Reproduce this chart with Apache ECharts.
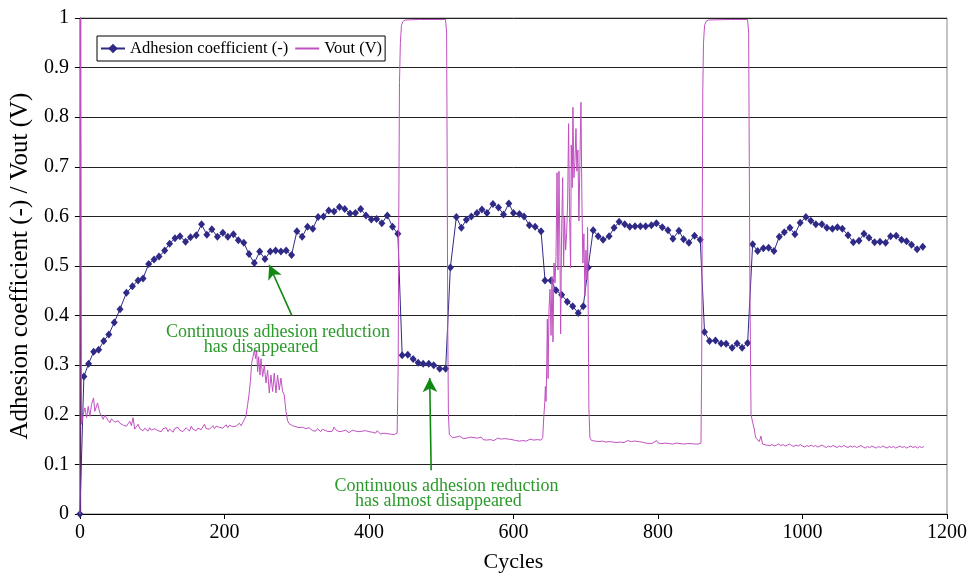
<!DOCTYPE html>
<html>
<head>
<meta charset="utf-8">
<script src="https://cdn.jsdelivr.net/npm/echarts@6/dist/echarts.min.js"></script>
<style>html,body{margin:0;padding:0;background:#fff}#c{width:970px;height:578px}</style>
</head>
<body>
<div id="c"></div>
<script>
const xTicks = [0, 200, 400, 600, 800, 1000, 1200];
const cycles = [0,5.5,12,19,26,33,40,47.5,55.5,
64.4,72.7,80.5,87.4,95.2,102.6,109.5,117.3,124.1,131.6,138.5,146.2,153.1,161,168.3,175.7,182.6,190.3,197.8,204.7,212.4,219.3,226.8,234,241.4,248.8,256.1,263.4,270.9,278.2,285.5,292.9,300.3,307.6,315,322.3,329.7,337.1,344.4,351.7,359.2,366.5,373.8,381.2,388.6,395.9,403.3,410.6,417.9,425.4,
432.7,440,
446,453.8,461.2,468.1,475,482.8,489.7,498,506.2,
512.7,521,527.9,534.8,541.7,549.5,556.4,563.3,571.6,579.3,586.2,593.6,600,608.3,614.7,622,630,638.2,
643.7,652,658.9,666.7,674.5,682,689.7,696.6,
703.4,710.3,717.2,724.1,732.4,739.3,746.2,754,761,768.3,775.7,783,790.9,797.8,806,813.8,820.7,829,835.4,842.8,850.6,858.5,
864.4,871.3,879.6,887.4,894.3,902.6,909.5,916.4,924.1,
931,937.9,945.8,953.1,960.5,967.9,974.8,982.6,989.5,996.8,1004.7,1011.6,1018.5,1026.8,1033.7,1041.4,1048.3,1055.2,1063,1070.3,1078.2,1085.1,1092,1099.8,1107.2,1115,1121.9,1129.7,1137.1,1144,1150.9,1158.6,1166.5];
const adhesion = [0,0.277,0.303,0.327,0.331,0.349,0.362,0.386,0.413,
0.446,0.459,0.471,0.475,0.504,0.513,0.519,0.531,0.545,0.556,0.560,0.549,0.558,0.562,0.584,0.563,0.574,0.559,0.567,0.559,0.564,0.552,0.547,0.524,0.506,0.529,0.514,0.529,0.531,0.529,0.531,0.522,0.570,0.559,0.579,0.575,0.599,0.600,0.612,0.610,0.619,0.615,0.606,0.607,0.615,0.602,0.594,0.595,0.586,0.602,
0.579,0.565,
0.320,0.321,0.3125,0.305,0.303,0.303,0.300,0.293,0.293,
0.497,0.599,0.577,0.593,0.600,0.607,0.614,0.607,0.625,0.618,0.604,0.626,0.607,0.605,0.600,0.582,0.579,0.570,
0.471,0.471,0.451,0.442,0.428,0.419,0.405,0.419,
0.497,0.572,0.560,0.553,0.560,0.577,0.589,0.584,0.579,0.580,0.580,0.580,0.582,0.586,0.578,0.572,0.555,0.571,0.554,0.547,0.561,0.553,
0.367,0.349,0.350,0.344,0.343,0.335,0.344,0.335,0.345,
0.544,0.530,0.536,0.537,0.530,0.559,0.568,0.577,0.564,0.587,0.599,0.591,0.584,0.584,0.577,0.575,0.578,0.575,0.562,0.548,0.551,0.565,0.557,0.548,0.549,0.547,0.560,0.561,0.553,0.550,0.543,0.534,0.539];
const voutPoints = [[0,0],[1,1.0],[1.8,0.5],[2.3,0.181],[4.6,0.201],[6.9,0.214],[9.2,0.194],[11.5,0.217],[13.8,0.197],[16.1,0.221],[18.9,0.234],[20.7,0.207],[24.4,0.224],[27.6,0.204],[30,0.198],[32.2,0.191],[34.5,0.199],[36.8,0.201],[39,0.189],[41.4,0.184],[43.7,0.192],[46,0.195],[48.3,0.185],[50.6,0.181],[53,0.188],[55.2,0.183],[57.5,0.186],[60,0.179],[62,0.183],[64.4,0.177],[66.7,0.182],[69,0.187],[71.3,0.178],[73.6,0.194],[75.9,0.171],[78.2,0.176],[80.5,0.181],[83,0.172],[85,0.176],[87.4,0.168],[89.7,0.173],[92,0.177],[94.3,0.167],[96.6,0.174],[98.9,0.169],[101,0.165],[103.5,0.172],[105.7,0.175],[108,0.168],[110.3,0.171],[112.6,0.166],[115,0.172],[117.2,0.169],[119.5,0.174],[122,0.166],[124,0.171],[126.4,0.169],[129,0.165],[131,0.172],[133,0.168],[135.6,0.175],[138,0.169],[140.3,0.173],[142.5,0.166],[144.8,0.168],[147,0.174],[149.4,0.17],[151.7,0.167],[154,0.177],[156.3,0.171],[158.6,0.174],[161,0.168],[163.2,0.173],[165.5,0.176],[167.8,0.17],[170,0.174],[172.4,0.181],[174.7,0.172],[177,0.176],[179.3,0.171],[181.6,0.174],[184,0.178],[186.2,0.172],[188.5,0.177],[190.8,0.181],[193,0.175],[195.4,0.179],[197.7,0.173],[200,0.177],[202.3,0.18],[204.6,0.174],[207,0.179],[209.2,0.182],[211.5,0.176],[213.8,0.18],[216,0.177],[218.4,0.179],[220.7,0.183],[223,0.178],[225.3,0.184],[227.5,0.19],[229.9,0.198],[232.2,0.221],[234,0.24],[235.9,0.267],[237.7,0.304],[240,0.300],[241.4,0.330],[243.2,0.313],[244.6,0.330],[246,0.287],[247.4,0.317],[249.2,0.280],[250.6,0.313],[252.9,0.277],[255.2,0.300],[257.5,0.264],[259.8,0.290],[262.1,0.244],[264.4,0.280],[266.7,0.247],[269,0.284],[271.3,0.244],[273.6,0.280],[275.9,0.250],[278.2,0.274],[280.5,0.247],[282.8,0.240],[285.1,0.208],[287.4,0.188],[289.7,0.182],[292,0.184],[294.3,0.178],[296.6,0.181],[299,0.176],[301,0.172],[303.4,0.174],[306,0.17],[308,0.175],[310.3,0.177],[312.6,0.172],[315,0.169],[317.2,0.174],[319.5,0.17],[322,0.168],[324.1,0.171],[326.4,0.167],[328.7,0.172],[331,0.169],[333.3,0.166],[335.6,0.171],[337.9,0.173],[340.2,0.168],[342.5,0.17],[344.8,0.166],[347,0.169],[349.4,0.167],[351.7,0.175],[354,0.17],[356.3,0.169],[358.6,0.166],[361,0.17],[363.2,0.167],[365.5,0.165],[367.8,0.169],[370.1,0.168],[372.4,0.164],[374.7,0.167],[377,0.169],[379.3,0.165],[381.6,0.167],[383.9,0.169],[386.2,0.166],[388.5,0.163],[390.8,0.167],[393,0.165],[395.4,0.168],[397.7,0.164],[400,0.166],[402.3,0.162],[404.6,0.165],[407,0.167],[409.2,0.163],[411.5,0.168],[413.8,0.164],[416,0.161],[418.4,0.165],[420.7,0.163],[423,0.16],[425.3,0.162],[427.6,0.165],[430,0.161],[432.2,0.163],[434.5,0.16],[436.8,0.161],[439,0.163],[440.5,0.3],[441.3,0.6],[442.3,0.87],[443.5,0.95],[445,0.985],[447,0.993],[450,0.996],[470,0.997],[490,0.997],[506,0.997],[507.5,0.97],[508.3,0.7],[509,0.4],[510,0.2],[511.3,0.16],
[513,0.157],[515.5,0.154],[518,0.158],[520.5,0.155],[523,0.153],[525.5,0.157],[528,0.154],[530.5,0.152],[533,0.156],[535.5,0.153],[538,0.151],[540.5,0.155],[543,0.152],[545.5,0.154],[548,0.15],[550.5,0.153],[553,0.151],[555.5,0.155],[558,0.15],[560.5,0.152],[563,0.149],[565.5,0.153],[568,0.15],[570.5,0.152],[573,0.148],[575.5,0.151],[578,0.153],[580.5,0.149],[583,0.151],[585.5,0.148],[588,0.152],[590.5,0.149],[593,0.151],[595.5,0.147],[598,0.15],[600.5,0.152],[603,0.148],[605.5,0.15],[608,0.147],[610.5,0.151],[613,0.148],[615.5,0.15],[618,0.147],[620.5,0.149],[623,0.151],[625.5,0.147],[628,0.149],[630.5,0.148],[633,0.15],[635.5,0.147],[638,0.149],
[640.5,0.154],[641.9,0.194],[643.3,0.224],[644.2,0.257],[645.1,0.227],[646,0.294],[646.9,0.393],[647.9,0.273],[649.2,0.413],[650.6,0.453],[652,0.360],[653.4,0.479],[654.7,0.347],[656.1,0.506],[657.5,0.466],[658.9,0.519],[660.3,0.688],[661.6,0.492],[663,0.691],[664.4,0.519],[665.3,0.363],[666.7,0.572],[668.1,0.678],[669.4,0.499],[670.8,0.598],[672.2,0.532],[673.6,0.565],[675,0.631],[676.3,0.787],[677.7,0.598],[679.1,0.496],[680,0.744],[681.4,0.658],[682.3,0.820],[683.7,0.678],[685.1,0.711],[686.5,0.777],[687.8,0.691],[689.2,0.734],[690.6,0.591],[692,0.711],[693.4,0.830],[694.8,0.625],[696.1,0.506],[697.5,0.565],[698.9,0.439],[700.3,0.532],[701.7,0.472],[702.6,0.578],[703.5,0.413],[704.4,0.214],
[705.8,0.154],[708.1,0.148],[710.5,0.151],[713,0.147],[715.5,0.149],[718,0.146],[720.5,0.15],[723,0.147],[725.5,0.149],[728,0.145],[730.5,0.148],[733,0.146],[735.5,0.149],[738,0.145],[740.5,0.147],[743,0.144],[745.5,0.148],[748,0.145],[750.5,0.147],[753,0.144],[755.5,0.146],[758,0.148],[760.5,0.144],[763,0.146],[765.5,0.143],[768,0.147],[770.5,0.144],[773,0.146],[775.5,0.143],[778,0.145],[780.5,0.147],[783,0.143],[785.5,0.145],[788,0.142],[790.5,0.146],[793,0.143],[795.5,0.145],[798,0.148],[800.5,0.143],[803,0.145],[805.5,0.142],[808,0.145],[810.5,0.143],[813,0.146],[815.5,0.142],[818,0.144],[820.5,0.141],[823,0.145],[825.5,0.143],[828,0.145],[830.5,0.142],[833,0.144],[835.5,0.141],[838,0.144],[840.5,0.142],[843,0.145],[845.5,0.142],[848,0.144],[850.5,0.141],[853,0.143],[855.5,0.141],[858,0.143],[859.5,0.143],
[860.5,0.3],[861.3,0.6],[862,0.85],[863,0.95],[864.5,0.985],[866.5,0.993],[870,0.996],[900,0.997],[924,0.997],[925.5,0.97],[926.4,0.7],[927.3,0.45],[928.8,0.2],[931,0.185],[933.3,0.171],[934.5,0.16],[935.6,0.153],[937.9,0.156],[940.2,0.146],[942.5,0.157],[944.8,0.141],[947,0.14],[949.4,0.139],
[952,0.141],[955,0.138],[958,0.14],[961,0.137],[964,0.139],[967,0.141],[970,0.138],[973,0.14],[976,0.137],[979,0.139],[982,0.141],[985,0.138],[988,0.136],[991,0.139],[994,0.137],[997,0.14],[1000,0.137],[1003,0.135],[1006,0.138],[1009,0.136],[1012,0.139],[1015,0.136],[1018,0.138],[1021,0.135],[1024,0.137],[1027,0.139],[1030,0.136],[1033,0.134],[1036,0.137],[1039,0.135],[1042,0.138],[1045,0.136],[1048,0.134],[1051,0.137],[1054,0.135],[1057,0.138],[1060,0.136],[1063,0.134],[1066,0.137],[1069,0.135],[1072,0.137],[1075,0.134],[1078,0.136],[1081,0.138],[1084,0.135],[1087,0.133],[1090,0.136],[1093,0.134],[1096,0.137],[1099,0.135],[1102,0.133],[1105,0.136],[1108,0.134],[1111,0.137],[1114,0.135],[1117,0.133],[1120,0.136],[1123,0.134],[1126,0.136],[1129,0.133],[1132,0.135],[1135,0.137],[1138,0.134],[1141,0.136],[1144,0.133],[1147,0.135],[1150,0.137],[1153,0.134],[1156,0.136],[1159,0.133],[1162,0.136],[1165,0.134],[1168,0.136]];

const notes = [
  {text: 'Continuous adhesion reduction', at: [274.1, 0.366]},
  {text: 'has disappeared', at: [250.6, 0.336]},
  {text: 'Continuous adhesion reduction', at: [507.2, 0.056]},
  {text: 'has almost disappeared', at: [496.1, 0.026]}
];
const arrows = [
  [[293.4, 0.400], [262, 0.502]],
  [[486.1, 0.088], [484.1, 0.274]]
];

const SERIF = '"Liberation Serif", "Times New Roman", serif';
const NAVY = '#2f2a85';
const PINK = '#c050c0';
const GREEN_TEXT = '#2a9a2a';
const GREEN_ARROW = '#118811';

const chart = echarts.init(document.getElementById('c'), null, {renderer: 'canvas'});
chart.setOption({
  animation: false,
  backgroundColor: '#fff',
  textStyle: {fontFamily: SERIF},
  grid: {left: 78, right: 22, top: 18, bottom: 57, containLabel: false, show: true, borderColor: '#888', borderWidth: 1, backgroundColor: 'transparent'},
  legend: {
    left: 97, top: 36,
    padding: [4, 3, 4, 3],
    borderColor: '#000', borderWidth: 1,
    itemWidth: 24, itemHeight: 12, itemGap: 6,
    textStyle: {fontFamily: SERIF, fontSize: 16.5, color: '#000'},
    data: ['Adhesion coefficient (-)', {name: 'Vout (V)', itemStyle: {opacity: 0}}]
  },
  xAxis: {
    type: 'value', min: xTicks[0], max: xTicks[xTicks.length - 1], interval: 200,
    name: 'Cycles', nameLocation: 'middle', nameGap: 37,
    nameTextStyle: {fontFamily: SERIF, fontSize: 22, color: '#000'},
    axisLine: {show: true, lineStyle: {color: '#000', width: 1.2}},
    axisTick: {show: true, inside: false, length: 5, lineStyle: {color: '#000'}},
    axisLabel: {fontFamily: SERIF, fontSize: 20, color: '#000', margin: 9, formatter: v => String(v)},
    splitLine: {show: false}
  },
  yAxis: {
    type: 'value', min: 0, max: 1, interval: 0.1,
    name: 'Adhesion coefficient (-) / Vout (V)', nameLocation: 'middle', nameGap: 46,
    nameTextStyle: {fontFamily: SERIF, fontSize: 25, color: '#000'},
    axisLine: {show: true, lineStyle: {color: '#000', width: 1.2}},
    axisTick: {show: true, inside: false, length: 5, lineStyle: {color: '#000'}},
    axisLabel: {fontFamily: SERIF, fontSize: 20, color: '#000', margin: 11},
    splitLine: {show: true, lineStyle: {color: '#222', width: 1}}
  },
  series: [
    {
      name: 'Adhesion coefficient (-)', type: 'line',
      data: cycles.map((c, i) => [c, adhesion[i]]),
      symbol: 'diamond', symbolSize: [7, 8], showSymbol: true,
      lineStyle: {color: NAVY, width: 1},
      itemStyle: {color: NAVY},
      z: 2,
      markLine: {
        silent: true, symbol: ['none', 'arrow'], symbolSize: [11, 14],
        label: {show: false},
        lineStyle: {color: GREEN_ARROW, width: 1.6, type: 'solid'},
        data: arrows.map(a => [{coord: a[0]}, {coord: a[1]}])
      },
      markPoint: {
        silent: true, symbol: 'circle', symbolSize: 0,
        label: {show: true, position: 'inside', color: GREEN_TEXT, fontFamily: SERIF, fontSize: 18,
          formatter: p => p.name},
        data: notes.map(n => ({name: n.text, coord: n.at}))
      }
    },
    {
      name: 'Vout (V)', type: 'line',
      data: voutPoints,
      symbol: 'none', showSymbol: false,
      lineStyle: {color: PINK, width: 1},
      itemStyle: {color: PINK},
      z: 3
    }
  ]
});
</script>
</body>
</html>
